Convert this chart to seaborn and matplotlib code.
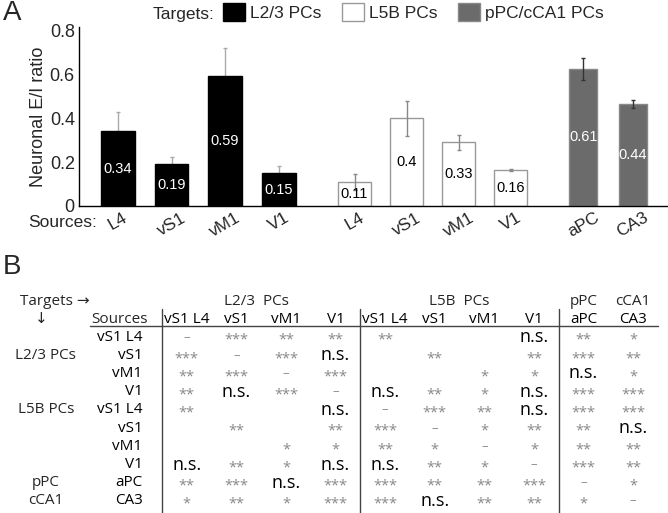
import matplotlib.pyplot as plt
import numpy as np
import pandas as pd
import seaborn as sns
from matplotlib.colors import ListedColormap
from matplotlib.patches import Patch

# ---- panel A: E/I ratio per source, grouped by target ----
targets = ["L2/3 PCs", "L5B PCs", "pPC/cCA1 PCs"]

l23_sources = ["L4", "vS1", "vM1", "V1"]
l23_ratio = [0.34, 0.19, 0.59, 0.15]
l23_err = [0.09, 0.035, 0.13, 0.03]
l23_text = ["0.34", "0.19", "0.59", "0.15"]

l5b_sources = ["L4", "vS1", "vM1", "V1"]
l5b_ratio = [0.11, 0.40, 0.29, 0.165]
l5b_err = [0.035, 0.08, 0.035, 0.005]
l5b_text = ["0.11", "0.4", "0.33", "0.16"]

hc_sources = ["aPC", "CA3"]
hc_ratio = [0.625, 0.465]
hc_err = [0.05, 0.018]
hc_text = ["0.61", "0.44"]

yticks = [0, 0.2, 0.4, 0.6, 0.8]
ytick_labels = ["0", "0.2", "0.4", "0.6", "0.8"]

# ---- panel B: pairwise significance table ----
table_sources = ["vS1 L4", "vS1", "vM1", "V1",
                 "vS1 L4", "vS1", "vM1", "V1",
                 "aPC", "CA3"]
col_groups = ["L2/3  PCs", "L5B  PCs", "pPC", "cCA1"]
row_groups = ["L2/3 PCs", "L5B PCs", "pPC", "cCA1"]
significance = [
    ["–", "***", "**", "**", "**", "", "", "n.s.", "**", "*"],
    ["***", "–", "***", "n.s.", "", "**", "", "**", "***", "**"],
    ["**", "***", "–", "***", "", "", "*", "*", "n.s.", "*"],
    ["**", "n.s.", "***", "–", "n.s.", "**", "*", "n.s.", "***", "***"],
    ["**", "", "", "n.s.", "–", "***", "**", "n.s.", "***", "***"],
    ["", "**", "", "**", "***", "–", "*", "**", "**", "n.s."],
    ["", "", "*", "*", "**", "*", "–", "*", "**", "**"],
    ["n.s.", "**", "*", "n.s.", "n.s.", "**", "*", "–", "***", "**"],
    ["**", "***", "n.s.", "***", "***", "**", "**", "***", "–", "*"],
    ["*", "**", "*", "***", "***", "n.s.", "**", "**", "*", "–"],
]

sns.set_theme(style="white")
plt.rcParams["font.family"] = ["Liberation Sans", "DejaVu Sans"]

W, H = 668, 513
fig = plt.figure(figsize=(W / 100, H / 100), dpi=100)

# bar panel
ax = fig.add_axes([79 / W, (H - 206) / H, (667 - 79) / W, 179 / H])

groups = [
    dict(src=l23_sources, val=l23_ratio, err=l23_err, txt=l23_text, start=0.0, step=1.03,
         face="black", edge="black", ecol="#aaaaaa", tcol="white", width=0.63, ez=1),
    dict(src=l5b_sources, val=l5b_ratio, err=l5b_err, txt=l5b_text, start=4.55, step=1.0,
         face="white", edge="#999999", ecol="#888888", tcol="black", width=0.63, ez=4),
    dict(src=hc_sources, val=hc_ratio, err=hc_err, txt=hc_text, start=8.95, step=0.95,
         face="#6b6b6b", edge="#888888", ecol="#333333", tcol="white", width=0.57, ez=4),
]

all_pos, all_src = [], []
for g, name in zip(groups, targets):
    pos = g["start"] + g["step"] * np.arange(len(g["val"]))
    df = pd.DataFrame({"pos": pos, "ratio": g["val"], "target": name})
    sns.barplot(data=df, x="pos", y="ratio", native_scale=True, orient="x",
                color=g["face"], saturation=1, width=g["width"],
                edgecolor=g["edge"], linewidth=1, errorbar=None, ax=ax, zorder=2)
    ax.errorbar(pos, g["val"], yerr=g["err"], fmt="none", ecolor=g["ecol"],
                elinewidth=1, capsize=1.5, capthick=1, zorder=g["ez"])
    for x, v, t in zip(pos, g["val"], g["txt"]):
        ax.text(x, v / 2, t, ha="center", va="center", color=g["tcol"],
                fontsize=10.5, zorder=5)
    all_pos.extend(pos)
    all_src.extend(g["src"])

ax.set_xlim(-0.75, 10.56)
ax.set_ylim(0, 0.815)
ax.set_yticks(yticks, labels=ytick_labels, fontsize=13)
ax.set_xticks(all_pos, labels=all_src, fontsize=12.5, rotation=30)
ax.tick_params(axis="both", length=0, pad=3)
ax.set_xlabel("")
ax.set_ylabel("Neuronal E/I ratio", fontsize=13, labelpad=2)
sns.despine(ax=ax)
for sp in ["left", "bottom"]:
    ax.spines[sp].set_color("black")
    ax.spines[sp].set_linewidth(1)

handles = [Patch(facecolor=g["face"], edgecolor=g["edge"]) for g in groups]
fig.legend(handles, targets, loc="upper left", bbox_to_anchor=(223 / W, 1 - 3 / H),
           ncol=3, frameon=False, fontsize=12.5, handlelength=1.25, handleheight=1.25,
           handletextpad=0.3, columnspacing=1.2, borderpad=0, borderaxespad=0)
fig.text(214 / W, 1 - 14 / H, "Targets:", ha="right", va="center", fontsize=12.5)
fig.text(97 / W, 1 - 223 / H, "Sources:", ha="right", va="center", fontsize=12.5)
fig.text(3 / W, 1 - 13 / H, "A", ha="left", va="center", fontsize=20)
fig.text(3 / W, 1 - 267 / H, "B", ha="left", va="center", fontsize=20)

# significance table
tfont = ["Open Sans", "DejaVu Sans"]
axb = fig.add_axes([162 / W, 3 / H, 496 / W, 182 / H])
n = len(table_sources)
sns.heatmap(np.zeros((n, n)), ax=axb, cmap=ListedColormap(["white"]), cbar=False,
            annot=np.array(significance, dtype=object), fmt="",
            xticklabels=table_sources, yticklabels=table_sources)
for t in axb.texts:
    s = t.get_text()
    t.set_family(tfont)
    if s == "n.s.":
        t.set_fontsize(13)
        t.set_color("black")
    elif s == "–":
        t.set_fontsize(9.5)
        t.set_color("#888888")
    else:
        t.set_fontsize(10.5)
        t.set_color("#888888")
        x, y = t.get_position()
        t.set_position((x, y + 0.18))

axb.xaxis.tick_top()
axb.tick_params(axis="x", length=0, pad=1, labelsize=11)
axb.tick_params(axis="y", length=0, pad=14, labelsize=11, rotation=0)
for lab in axb.get_xticklabels() + axb.get_yticklabels():
    lab.set_family(tfont)
    lab.set_color("black")

line_kw = dict(color="#444444", lw=1, clip_on=False)
axb.plot([-1.45, n], [-0.1, -0.1], **line_kw)
for c in [0, 4, 8]:
    axb.plot([c, c], [-1.03, n + 0.15], **line_kw)

hdr_y = -1.47
txt_kw = dict(fontsize=11, family=tfont, va="center", clip_on=False)
axb.text(1.9, hdr_y, col_groups[0], ha="center", **txt_kw)
axb.text(6.0, hdr_y, col_groups[1], ha="center", **txt_kw)
axb.text(8.5, hdr_y, col_groups[2], ha="center", **txt_kw)
axb.text(9.5, hdr_y, col_groups[3], ha="center", **txt_kw)
axb.text(-0.28, -0.49, "Sources", ha="right", **txt_kw)
axb.text(-2.86, hdr_y, "Targets →", ha="left", **txt_kw)
axb.text(-2.44, -0.49, "↓", ha="center", **txt_kw)
for label, row in zip(row_groups, [1.5, 4.5, 8.5, 9.5]):
    axb.text(-2.34, row, label, ha="center", **txt_kw)

axb.set_xlim(0, n)
axb.set_ylim(n, 0)

fig.savefig("out.png", dpi=100)
